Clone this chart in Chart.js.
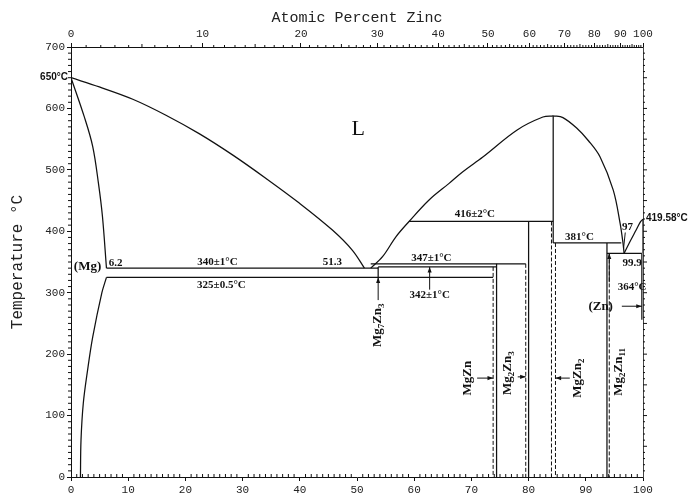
<!DOCTYPE html>
<html>
<head>
<meta charset="utf-8">
<script src="https://cdn.jsdelivr.net/npm/chart.js@4.4.1/dist/chart.umd.min.js"></script>
<style>
  html, body { margin: 0; padding: 0; background: #fff; }
</style>
</head>
<body>
<canvas id="myChart" width="695" height="496"></canvas>
<script>
// phase boundaries: [weight % Zn, temperature °C]
const mgLiquidus = [[0,650],[4.95,635],[10.8,615],[16.6,589],[22.4,559],[28.3,524],[34.1,486],[39.9,446],[45.7,402],[49.2,369],[51.3,340]];
const mgSolidus = [[0,650],[2.3,587],[3.8,538],[4.8,478],[5.5,424],[6.2,340]];
const mgSolvus = [[1.65,0],[1.75,60],[2.15,120],[2.9,174],[3.8,228],[5.4,300],[6.2,325]];
const midLiquidus = [[52.4,340],[54.5,359],[56.8,391],[59.1,416],[62.6,451],[66.1,478],[68.5,497],[72,521],[78,565],[82.5,586],[84.3,588]];
const mgzn2Liquidus = [[84.3,588],[86,585],[88.4,568],[90.5,547],[92.5,521],[94.8,467],[96,413],[96.5,381],[96.7,364]];
const znLiquidus = [[96.7,364],[97.6,381],[98.8,402],[99.6,416],[100,419.58]];

// invariant (horizontal) lines
const invTemps = [340, 342, 347, 325, 416, 381, 364];
const invFrom = [6.2, 53.7, 52.4, 6.2, 59.1, 84.3, 93.7];
const invTo = [53.7, 74.4, 79.5, 73.8, 84.3, 96.2, 99.8];

// compound / phase limit verticals
const vertX = [53.7, 74.4, 80.0, 84.3, 93.7, 99.8, 100];
const vertTop = [342, 347, 416, 588, 381, 364, 419.58];
const vertBottom = [325, 0, 0, 381, 0, 256, 364];
const dashX = [73.8, 79.5, 84.0, 84.7, 94.1];
const dashTop = [342, 347, 416, 381, 364];

// top axis: atomic percent zinc
const atomicTicks = [0, 10, 20, 30, 40, 50, 60, 70, 80, 90, 100];
const MG = 24.305, ZN = 65.38;
function atToWt(a) { return 100 * a * ZN / (a * ZN + (100 - a) * MG); }

const ink = '#111';
function seg(points, extra) {
    return Object.assign({
        data: points.map(p => ({ x: p[0], y: p[1] })),
        showLine: true,
        borderColor: ink,
        borderWidth: 1.25,
        pointRadius: 0,
        fill: false
    }, extra || {});
}

const datasets = [];
[mgLiquidus, mgSolidus, mgSolvus, midLiquidus, mgzn2Liquidus, znLiquidus].forEach(c => {
    datasets.push(seg(c, { tension: 0.35 }));
});
invTemps.forEach((t, i) => datasets.push(seg([[invFrom[i], t], [invTo[i], t]])));
vertX.forEach((x, i) => datasets.push(seg([[x, vertTop[i]], [x, vertBottom[i]]])));
dashX.forEach((x, i) => datasets.push(seg([[x, dashTop[i]], [x, 0]], { borderDash: [4, 2], borderWidth: 1 })));

const annotate = {
    id: 'annotate',
    afterDraw(chart) {
        const ctx = chart.ctx, ca = chart.chartArea;
        const X = v => chart.scales.x.getPixelForValue(v);
        const Y = v => chart.scales.y.getPixelForValue(v);
        ctx.save();
        ctx.strokeStyle = ink;
        ctx.fillStyle = ink;
        ctx.lineWidth = 1;

        // minor ticks
        ctx.beginPath();
        for (let v = 1; v < 100; v++) if (v % 10) { ctx.moveTo(X(v), ca.bottom); ctx.lineTo(X(v), ca.bottom - 3); }
        for (let t = 10; t < 700; t += 10) if (t % 100) { ctx.moveTo(ca.left, Y(t)); ctx.lineTo(ca.left - 3, Y(t)); }
        for (let a = 1; a < 100; a++) if (a % 10) { const p = X(atToWt(a)); ctx.moveTo(p, ca.top); ctx.lineTo(p, ca.top - (a % 5 ? 2 : 3)); }
        for (let t = 10; t < 700; t += 10) { ctx.moveTo(ca.right, Y(t)); ctx.lineTo(ca.right + (t % 50 ? 2 : 4), Y(t)); }
        ctx.stroke();

        function txt(s, x, y, font, align) {
            ctx.font = font;
            ctx.textAlign = align || 'center';
            ctx.textBaseline = 'middle';
            ctx.fillText(s, x, y);
        }
        function arrow(x1, y1, x2, y2) {
            const a = Math.atan2(y2 - y1, x2 - x1);
            ctx.beginPath();
            ctx.moveTo(x1, y1); ctx.lineTo(x2, y2);
            ctx.stroke();
            ctx.beginPath();
            ctx.moveTo(x2, y2);
            ctx.lineTo(x2 - 6 * Math.cos(a - 0.35), y2 - 6 * Math.sin(a - 0.35));
            ctx.lineTo(x2 - 6 * Math.cos(a + 0.35), y2 - 6 * Math.sin(a + 0.35));
            ctx.closePath();
            ctx.fill();
        }
        function rich(parts, x, y, size) {
            const big = 'bold ' + size + 'px "Liberation Serif"';
            const small = 'bold ' + Math.round(size * 0.72) + 'px "Liberation Serif"';
            ctx.save();
            ctx.translate(x, y);
            ctx.rotate(-Math.PI / 2);
            ctx.textAlign = 'left';
            ctx.textBaseline = 'middle';
            let w = 0;
            parts.forEach(p => { ctx.font = p[1] ? small : big; w += ctx.measureText(p[0]).width; });
            let cx = -w / 2;
            parts.forEach(p => {
                ctx.font = p[1] ? small : big;
                ctx.fillText(p[0], cx, p[1] ? size * 0.32 : 0);
                cx += ctx.measureText(p[0]).width;
            });
            ctx.restore();
        }

        const num = 'bold 11px "Liberation Serif"';
        const sans = 'bold 10px "Liberation Sans"';
        txt('650°C', ca.left - 3, Y(650), sans, 'right');
        txt('419.58°C', ca.right + 3, Y(421), sans, 'left');
        txt('L', X(50.2), Y(566), '22px "Liberation Serif"');
        txt('(Mg)', X(2.9), Y(343), 'bold 13px "Liberation Serif"');
        txt('6.2', X(7.8), Y(348), num);
        txt('340±1°C', X(25.6), Y(349), num);
        txt('325±0.5°C', X(26.3), Y(312), num);
        txt('51.3', X(45.7), Y(349), num);
        txt('347±1°C', X(63.0), Y(356), num);
        txt('342±1°C', X(62.7), Y(296), num);
        txt('416±2°C', X(70.6), Y(428), num);
        txt('381°C', X(88.9), Y(391), num);
        txt('97', X(97.3), Y(407), num);
        txt('99.9', X(98.1), Y(348), num);
        txt('364°C', X(98.1), Y(309), num);
        txt('(Zn)', X(92.6), Y(278), 'bold 13px "Liberation Serif"');

        arrow(X(62.7), Y(305), X(62.7), Y(342));
        arrow(X(53.7), Y(288), X(53.7), Y(325));
        arrow(X(71.0), Y(161), X(73.8), Y(161));
        arrow(X(78.1), Y(163), X(79.5), Y(163));
        arrow(X(87.2), Y(161), X(84.7), Y(161));
        arrow(X(94.1), Y(317), X(94.1), Y(364));
        arrow(X(96.3), Y(278), X(99.8), Y(278));
        ctx.beginPath();
        ctx.moveTo(X(96.9), Y(398)); ctx.lineTo(X(96.6), Y(372));
        ctx.stroke();

        rich([['Mg', 0], ['7', 1], ['Zn', 0], ['3', 1]], X(53.6), Y(247), 13);
        rich([['MgZn', 0]], X(69.4), Y(161), 13);
        rich([['Mg', 0], ['2', 1], ['Zn', 0], ['3', 1]], X(76.4), Y(169), 13);
        rich([['MgZn', 0], ['2', 1]], X(88.5), Y(161), 13);
        rich([['Mg', 0], ['2', 1], ['Zn', 0], ['11', 1]], X(95.7), Y(171), 13);
        ctx.restore();
    }
};

const tickFont = { family: '"Liberation Mono"', size: 11 };
const axisGrid = { drawOnChartArea: false, color: ink, tickLength: 4 };
const axisBorder = { color: ink, width: 1 };

new Chart(document.getElementById('myChart').getContext('2d'), {
    type: 'scatter',
    data: { datasets: datasets },
    options: {
        responsive: false,
        animation: false,
        layout: { padding: 0 },
        plugins: { legend: { display: false }, tooltip: { enabled: false } },
        scales: {
            x: {
                type: 'linear', position: 'bottom', min: 0, max: 100,
                ticks: { stepSize: 10, font: tickFont, color: '#222', padding: 2, maxRotation: 0 },
                grid: axisGrid, border: axisBorder,
                afterFit: s => { s.height = 19; }
            },
            xTop: {
                type: 'linear', position: 'top', min: 0, max: 100,
                afterBuildTicks: s => { s.ticks = atomicTicks.map(a => ({ value: atToWt(a) })); },
                ticks: { callback: (v, i) => atomicTicks[i], autoSkip: false, font: tickFont, color: '#222', padding: 2, maxRotation: 0 },
                grid: axisGrid, border: axisBorder,
                title: { display: true, text: 'Atomic Percent Zinc', font: { family: '"Liberation Mono"', size: 15 }, color: '#222', padding: { top: 9, bottom: 0 } },
                afterFit: s => { s.height = 47; }
            },
            y: {
                type: 'linear', position: 'left', min: 0, max: 700,
                ticks: { stepSize: 100, font: tickFont, color: '#222', padding: 2 },
                grid: axisGrid, border: axisBorder,
                title: { display: true, text: 'Temperature °C', font: { family: '"Liberation Mono"', size: 16 }, color: '#222', padding: { top: 8, bottom: 0 } },
                afterFit: s => { s.width = 71; }
            },
            yRight: {
                type: 'linear', position: 'right', min: 0, max: 700,
                ticks: { display: false },
                grid: { drawOnChartArea: false, drawTicks: false },
                border: { color: '#444', width: 1 },
                afterFit: s => { s.width = 52; }
            }
        }
    },
    plugins: [annotate]
});
</script>
</body>
</html>
